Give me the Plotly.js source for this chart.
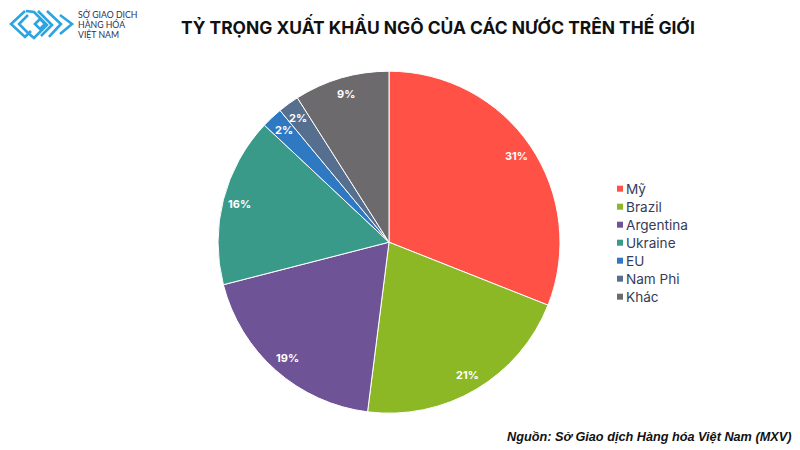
<!DOCTYPE html>
<html><head><meta charset="utf-8">
<script src="https://cdn.plot.ly/plotly-3.0.1.min.js"></script>
<style>html,body{margin:0;padding:0;background:#fff}</style></head>
<body><div id="c" style="width:800px;height:450px"></div>
<script>
const categories=["Mỹ","Brazil","Argentina","Ukraine","EU","Nam Phi","Khác"];
const shares=[31,21,19,16,2,2,9];
const colors=["#FF5145","#8CB825","#6F5397","#3A9A8A","#2F79C2","#566F8F","#6D6A6E"];
const W=800,H=450;
const cx=389,cy=242.2,R=171,labelR=154;
const px=x=>x/W, py=y=>1-y/H;
const poly=pts=>'M '+pts.map(p=>px(p[0]).toFixed(4)+' '+py(p[1]).toFixed(4)).join(' L ');
const logoPaths=[
 [[25,11],[11,24],[25,37],[31,31]],
 [[28,15],[19,24],[28,33],[34,38],[47,25],[34,12],[26,11]],
 [[40,19],[35,24],[40,29],[45,24],[40,19]],
 [[38,11],[52,25],[41,36]],
 [[47,11],[61,24],[49,37]],
 [[60,15],[72,24],[60,34]]
];
const shapes=logoPaths.map(p=>({type:'path',xref:'paper',yref:'paper',path:poly(p),line:{color:'#2BA4E0',width:2.6}}));
const ann=(t,x,y,size,font,opt={})=>Object.assign({text:t,xref:'paper',yref:'paper',x:px(x),y:py(y),showarrow:false,xanchor:'left',yanchor:'middle',borderpad:0,font:Object.assign({size:size},font)},opt);
const logoFont={color:'#2a3050',family:'Lato,sans-serif'};
const annotations=[
 ann('SỞ GIAO DỊCH',77,14.5,8.7,logoFont),
 ann('HÀNG HÓA',77,24.5,8.7,logoFont),
 ann('VIỆT NAM',77,34.5,8.7,logoFont),
 ann('TỶ TRỌNG XUẤT KHẨU NGÔ CỦA CÁC NƯỚC TRÊN THẾ GIỚI',438,26,17.4,{color:'#111',family:'Inter,sans-serif',weight:700},{xanchor:'center'}),
 ann('Nguồn: Sở Giao dịch Hàng hóa Việt Nam (MXV)',792,437,12.7,{color:'#111',family:'"Liberation Sans",Arial,sans-serif',weight:700,style:'italic'},{xanchor:'right'})
];
// percent labels placed near the rim, computed from the share of each slice
let cum=0;
shares.forEach(v=>{
 const a=(cum+v/2)/100*2*Math.PI; cum+=v;
 annotations.push(ann(v+'%',cx+labelR*Math.sin(a),cy-labelR*Math.cos(a),11,{color:'#fff',family:'Inter,sans-serif',weight:700},{xanchor:'center'}));
});
// compact legend
categories.forEach((c,i)=>{
 const y=188.7+i*18;
 shapes.push({type:'rect',xref:'paper',yref:'paper',x0:px(617),x1:px(623),y0:py(y-3),y1:py(y+3),fillcolor:colors[i],line:{width:0}});
 annotations.push(ann(c,624.7,y,13.6,{color:'#363b5a',family:'Inter,sans-serif'}));
});
const layout={width:W,height:H,margin:{l:0,r:0,t:0,b:0},paper_bgcolor:'#fff',showlegend:false,shapes:shapes,annotations:annotations};
const trace={type:'pie',labels:categories,values:shares,sort:false,direction:'clockwise',rotation:0,
 marker:{colors:colors,line:{color:'#fff',width:1}},textinfo:'none',
 domain:{x:[px(cx-R),px(cx+R)],y:[py(cy+R),py(cy-R)]},hoverinfo:'label+percent'};
Plotly.newPlot('c',[trace],layout,{displayModeBar:false,staticPlot:true});
</script></body></html>
